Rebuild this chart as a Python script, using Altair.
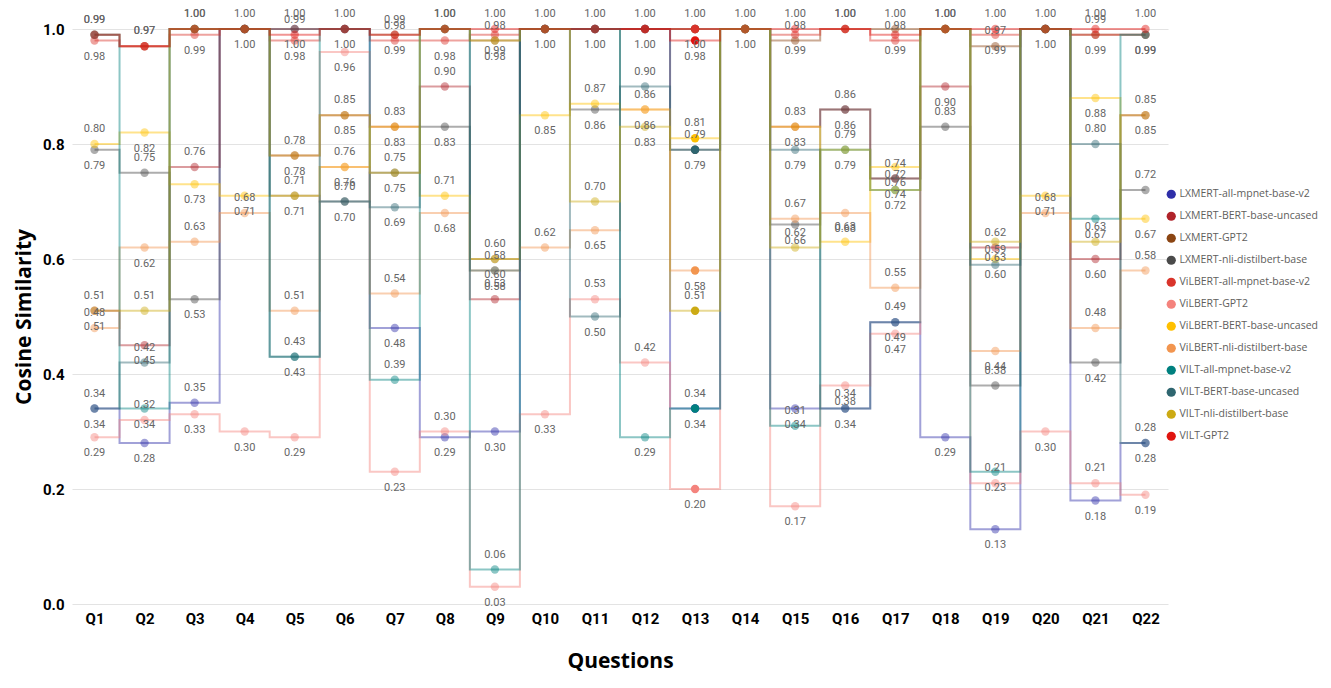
import altair as alt
import pandas as pd

questions = ["Q1", "Q2", "Q3", "Q4", "Q5", "Q6", "Q7", "Q8", "Q9", "Q10", "Q11",
             "Q12", "Q13", "Q14", "Q15", "Q16", "Q17", "Q18", "Q19", "Q20", "Q21", "Q22"]

models = [
    "LXMERT-all-mpnet-base-v2", "LXMERT-BERT-base-uncased", "LXMERT-GPT2",
    "LXMERT-nli-distilbert-base", "ViLBERT-all-mpnet-base-v2", "ViLBERT-GPT2",
    "ViLBERT-BERT-base-uncased", "ViLBERT-nli-distilbert-base", "VILT-all-mpnet-base-v2",
    "VILT-BERT-base-uncased", "VILT-nli-distilbert-base", "VILT-GPT2",
]
model_colors = ["#2E2EA8", "#B0232A", "#8B4513", "#4A4A4A", "#D9342B", "#F4837D",
                "#FFC000", "#F2954F", "#00807F", "#2F6670", "#CCAA14", "#E0150F"]

lxmert_mpnet = [0.34, 0.28, 0.35, 1.00, 1.00, 1.00, 0.48, 0.29, 0.30, 1.00, 1.00,
                1.00, 0.34, 1.00, 0.34, 0.34, 0.49, 0.29, 0.13, 1.00, 0.18, 0.28]
lxmert_bert = [0.51, 0.45, 0.76, 1.00, 0.78, 0.85, 0.83, 0.90, 0.53, 1.00, 1.00,
               1.00, 1.00, 1.00, 0.83, 0.86, 0.74, 0.90, 0.62, 1.00, 0.60, 0.85]
lxmert_gpt2 = [0.99, 0.97, 1.00, 1.00, 1.00, 1.00, 0.99, 1.00, 0.98, 1.00, 1.00,
               1.00, 1.00, 1.00, 0.98, 1.00, 1.00, 1.00, 0.97, 1.00, 0.99, 0.99]
lxmert_nli = [0.79, 0.75, 0.53, 1.00, 0.71, 0.70, 0.75, 0.83, 0.60, 1.00, 0.86,
              1.00, 0.79, 1.00, 0.66, 0.86, 0.74, 0.83, 0.38, 1.00, 0.42, 0.72]
vilbert_mpnet = [0.98, 0.97, 0.99, 1.00, 0.98, 1.00, 0.98, 0.98, 0.99, 1.00, 1.00,
                 1.00, 1.00, 1.00, 0.99, 1.00, 0.98, 1.00, 0.99, 1.00, 0.99, 0.99]
vilbert_gpt2 = [0.29, 0.32, 0.33, 0.30, 0.29, 0.96, 0.23, 0.30, 0.03, 0.33, 0.53,
                0.42, 0.20, 1.00, 0.17, 0.38, 0.47, 1.00, 0.21, 0.30, 0.21, 0.19]
vilbert_bert = [0.80, 0.82, 0.73, 0.71, 0.71, 0.76, 0.83, 0.71, 0.60, 0.85, 0.87,
                0.86, 0.81, 1.00, 0.83, 0.63, 0.76, 1.00, 0.60, 0.71, 0.88, 0.67]
vilbert_nli = [0.48, 0.62, 0.63, 0.68, 0.51, 0.76, 0.54, 0.68, 0.58, 0.62, 0.65,
               0.86, 0.58, 1.00, 0.67, 0.68, 0.55, 1.00, 0.44, 0.68, 0.48, 0.58]
vilt_mpnet = [0.99, 0.34, 1.00, 1.00, 0.43, 1.00, 0.39, 1.00, 0.06, 1.00, 1.00,
              0.29, 0.34, 1.00, 0.31, 0.79, 0.72, 1.00, 0.23, 1.00, 0.67, 0.99]
vilt_bert = [0.34, 0.42, 1.00, 1.00, 0.43, 0.70, 0.69, 1.00, 0.58, 1.00, 0.50,
             0.90, 0.79, 1.00, 0.79, 0.34, 0.49, 1.00, 0.59, 1.00, 0.80, 0.28]
vilt_nli = [0.51, 0.51, 1.00, 1.00, 0.78, 0.85, 0.75, 1.00, 0.98, 1.00, 0.70,
            0.83, 0.51, 1.00, 0.62, 0.79, 0.72, 1.00, 0.63, 1.00, 0.63, 0.85]
vilt_gpt2 = [0.99, 0.97, 1.00, 1.00, 0.99, 1.00, 0.99, 1.00, 1.00, 1.00, 1.00,
             1.00, 0.98, 1.00, 1.00, 1.00, 0.99, 1.00, 1.00, 1.00, 1.00, 1.00]

series = [lxmert_mpnet, lxmert_bert, lxmert_gpt2, lxmert_nli, vilbert_mpnet, vilbert_gpt2,
          vilbert_bert, vilbert_nli, vilt_mpnet, vilt_bert, vilt_nli, vilt_gpt2]

rows = []
for m, vals in zip(models, series):
    for qi, (q, v) in enumerate(zip(questions, vals)):
        rows.append({"Model": m, "Question": q, "qi": qi, "Value": v})
df = pd.DataFrame(rows)

label_font = "Roboto"

x_enc = alt.X(
    "Question:N", sort=questions,
    scale=alt.Scale(padding=0.45),
    axis=alt.Axis(title="Questions", labelAngle=0, labelFont=label_font, labelFontSize=15,
                  labelFontWeight="bold", labelColor="#000000", labelPadding=7,
                  titleFont="Open Sans", titleFontSize=21, titleFontWeight="bold",
                  titleColor="#000000", titlePadding=24, ticks=False, domain=False,
                  grid=False),
)
y_enc = alt.Y(
    "Value:Q", scale=alt.Scale(domain=[0, 1], nice=False),
    axis=alt.Axis(title="Cosine Similarity", values=[0, 0.2, 0.4, 0.6, 0.8, 1.0], format=".1f",
                  labelFont=label_font, labelFontSize=15, labelFontWeight="bold",
                  labelColor="#000000", labelPadding=8, titleFont="Open Sans",
                  titleFontSize=21, titleFontWeight="bold", titleColor="#000000",
                  titlePadding=8, ticks=False, domain=False, grid=True,
                  gridColor="#E3E3E3", gridWidth=1),
)
color_enc = alt.Color(
    "Model:N", sort=models, scale=alt.Scale(domain=models, range=model_colors),
    legend=alt.Legend(title=None, orient="none", legendX=1094, legendY=160,
                      symbolType="circle", symbolSize=85, symbolOpacity=1,
                      symbolStrokeWidth=0, labelFont="Open Sans", labelFontSize=10.5,
                      labelColor="#605E5C", labelOffset=3, rowPadding=11,
                      labelLimit=200),
)

base = alt.Chart(df).encode(x=x_enc, y=y_enc)

lines = base.mark_line(interpolate="step", strokeWidth=2, opacity=0.45).encode(
    color=color_enc, order=alt.Order("qi:Q"))

points = base.mark_circle(size=70).encode(
    color=alt.Color("Model:N", sort=models, scale=alt.Scale(domain=models, range=model_colors),
                    legend=None),
    opacity=alt.condition(alt.datum.Question == "Q13", alt.value(1.0), alt.value(0.45)),
)

ranked = base.transform_window(
    rk="row_number()", groupby=["Question"],
    sort=[alt.SortField("Value", order="descending")],
).transform_window(
    dup="row_number()", groupby=["Question", "Value"],
    sort=[alt.SortField("Model", order="ascending")],
).transform_filter("datum.dup <= 2")

text_above = ranked.transform_filter("datum.rk % 2 == 1").mark_text(
    dy=-15, font=label_font, fontSize=11, color="#666666"
).encode(text=alt.Text("Value:Q", format=".2f"))
text_below = ranked.transform_filter("datum.rk % 2 == 0").mark_text(
    dy=16, font=label_font, fontSize=11, color="#666666"
).encode(text=alt.Text("Value:Q", format=".2f"))

chart = alt.layer(lines, points, text_above, text_below).properties(
    width=1096, height=575,
    padding={"left": 5, "top": 0, "right": 0, "bottom": 0},
).configure_view(stroke=None)

chart.save("out.html", embed_options={"renderer": "svg", "actions": False})
